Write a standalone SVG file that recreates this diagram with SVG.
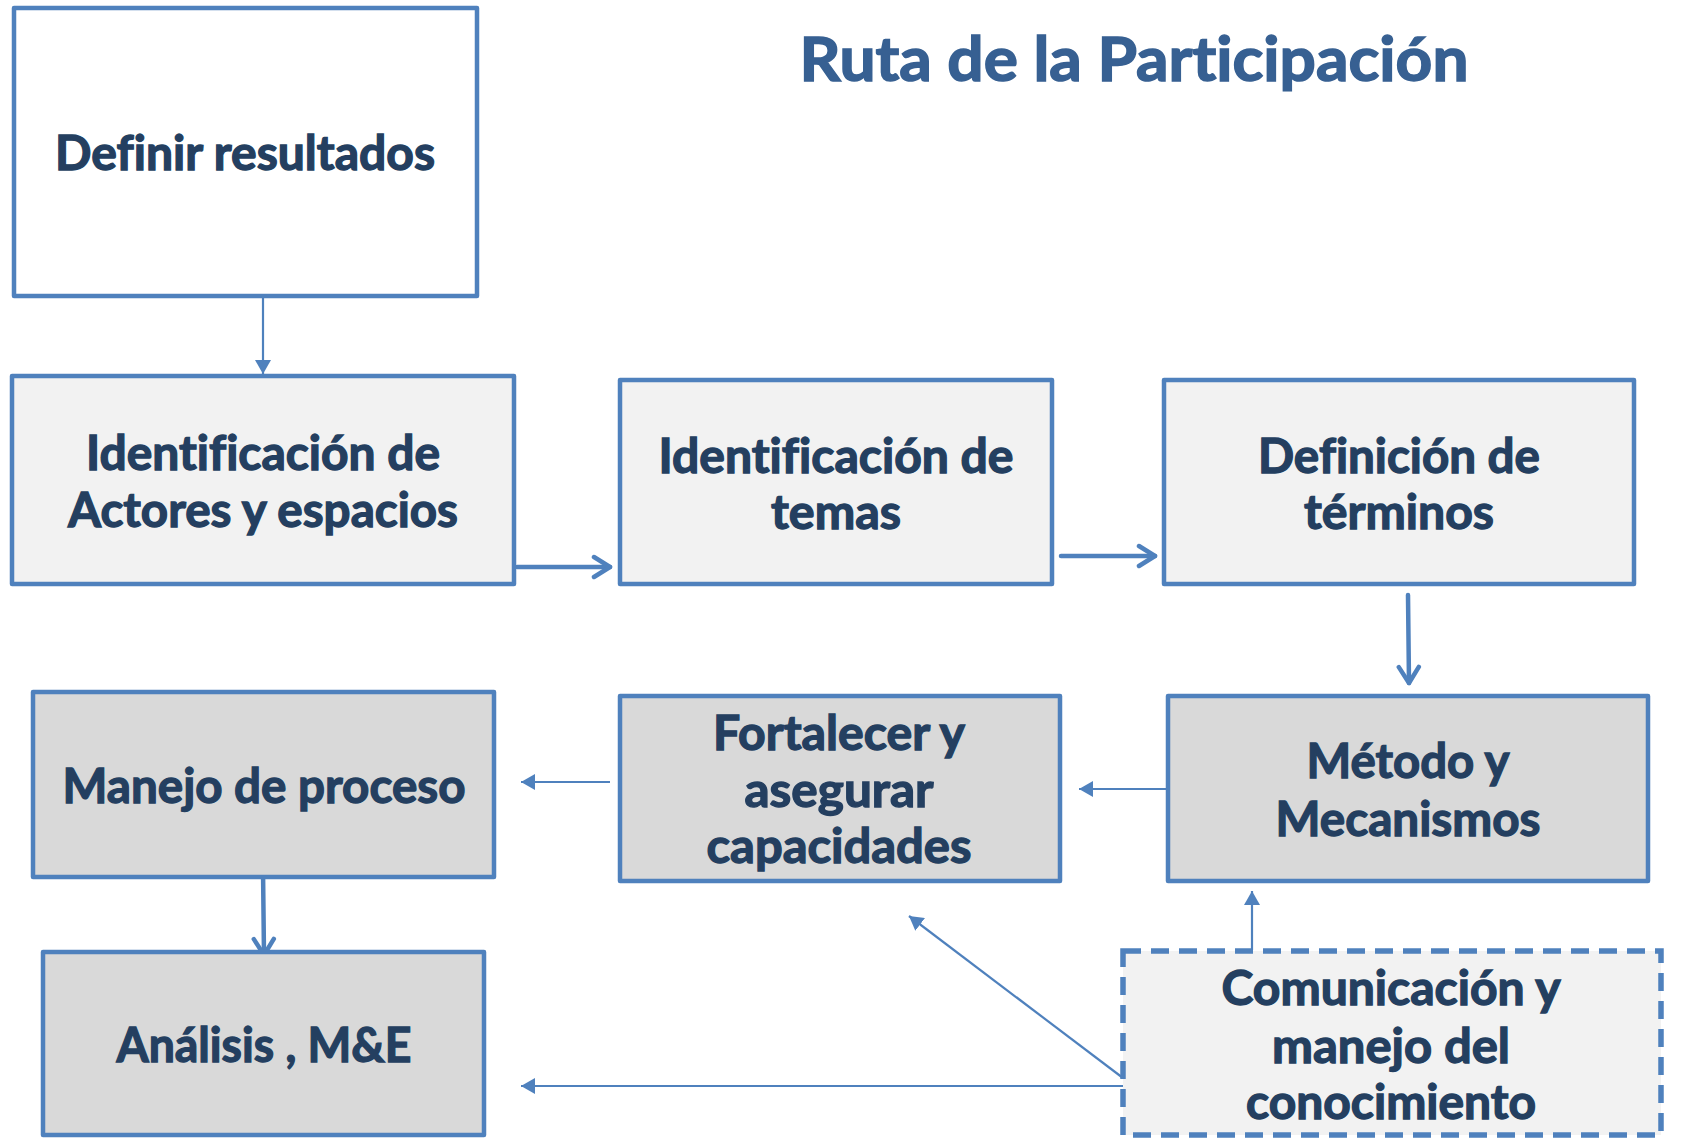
<svg xmlns="http://www.w3.org/2000/svg" width="1687" height="1139" viewBox="0 0 1687 1139">
<style>
.box{stroke:#4F81BD;stroke-width:4.5;stroke-linejoin:round}
.white{fill:#FFFFFF}
.light{fill:#F2F2F2}
.grey{fill:#D9D9D9}
.dash{stroke-dasharray:18 10;stroke-width:5.5;stroke-linejoin:miter}
.t{font-family:Lato,"Open Sans","Liberation Sans",sans-serif;font-weight:bold;font-size:47px;fill:#243F60;stroke:#243F60;stroke-width:1.3;text-anchor:middle;font-variant-ligatures:none;font-feature-settings:"liga" 0}
.title{font-family:Lato,"Open Sans","Liberation Sans",sans-serif;font-weight:bold;font-size:62px;fill:#376092;stroke:#376092;stroke-width:1.5;text-anchor:middle;font-variant-ligatures:none;font-feature-settings:"liga" 0}
.thick{stroke:#4F81BD;stroke-width:4.5;fill:none;stroke-linecap:round}
.thin{stroke:#4F81BD;stroke-width:2.2;fill:none}
</style>
<defs>
<marker id="open" markerUnits="userSpaceOnUse" viewBox="0 0 22 26" refX="19" refY="13" markerWidth="22" markerHeight="26" orient="auto">
<path d="M3,3 L19,13 L3,23" fill="none" stroke="#4F81BD" stroke-width="4.5" stroke-linecap="round" stroke-linejoin="round"/>
</marker>
<marker id="tri" markerUnits="userSpaceOnUse" viewBox="0 0 14 16" refX="14" refY="8" markerWidth="14" markerHeight="16" orient="auto">
<path d="M0,0 L14,8 L0,16 Z" fill="#4F81BD"/>
</marker>
</defs>
<rect width="1687" height="1139" fill="#FFFFFF"/>
<text class="title" x="1134" y="81" textLength="669" lengthAdjust="spacingAndGlyphs">Ruta de la Participación</text>

<g id="connectors">
<line class="thin" x1="263" y1="297" x2="263" y2="374" marker-end="url(#tri)"/>
<line class="thick" x1="517" y1="567" x2="610" y2="567" marker-end="url(#open)"/>
<line class="thick" x1="1061" y1="556" x2="1155" y2="556" marker-end="url(#open)"/>
<line class="thick" x1="1408" y1="595" x2="1409" y2="683" marker-end="url(#open)"/>
<line class="thin" x1="1167" y1="789" x2="1079" y2="789" marker-end="url(#tri)"/>
<line class="thin" x1="610" y1="782" x2="521" y2="782" marker-end="url(#tri)"/>
<line class="thick" x1="263" y1="869" x2="264" y2="955" marker-end="url(#open)"/>
<line class="thin" x1="1252" y1="950" x2="1252" y2="891" marker-end="url(#tri)"/>
<line class="thin" x1="1123" y1="1078" x2="909" y2="916" marker-end="url(#tri)"/>
<line class="thin" x1="1123" y1="1086" x2="521" y2="1086" marker-end="url(#tri)"/>
</g>

<g id="n-definir">
<rect class="box white" x="14" y="8" width="463" height="288"/>
<text class="t" x="245" y="170" textLength="380" lengthAdjust="spacingAndGlyphs">Definir resultados</text>
</g>
<g id="n-actores">
<rect class="box light" x="12" y="376" width="502" height="208"/>
<text class="t" x="263" y="470" textLength="354" lengthAdjust="spacingAndGlyphs">Identificación de</text>
<text class="t" x="263" y="527" textLength="390" lengthAdjust="spacingAndGlyphs">Actores y espacios</text>
</g>
<g id="n-temas">
<rect class="box light" x="620" y="380" width="432" height="204"/>
<text class="t" x="836" y="473" textLength="355" lengthAdjust="spacingAndGlyphs">Identificación de</text>
<text class="t" x="836" y="529" textLength="130" lengthAdjust="spacingAndGlyphs">temas</text>
</g>
<g id="n-terminos">
<rect class="box light" x="1164" y="380" width="470" height="204"/>
<text class="t" x="1399" y="473" textLength="282" lengthAdjust="spacingAndGlyphs">Definición de</text>
<text class="t" x="1399" y="529" textLength="190" lengthAdjust="spacingAndGlyphs">términos</text>
</g>
<g id="n-metodo">
<rect class="box grey" x="1168" y="696" width="480" height="185"/>
<text class="t" x="1408" y="778" textLength="203" lengthAdjust="spacingAndGlyphs">Método y</text>
<text class="t" x="1408" y="836" textLength="265" lengthAdjust="spacingAndGlyphs">Mecanismos</text>
</g>
<g id="n-fortalecer">
<rect class="box grey" x="620" y="696" width="440" height="185"/>
<text class="t" x="839" y="750" textLength="252" lengthAdjust="spacingAndGlyphs">Fortalecer y</text>
<text class="t" x="839" y="807" textLength="189" lengthAdjust="spacingAndGlyphs">asegurar</text>
<text class="t" x="839" y="863" textLength="265" lengthAdjust="spacingAndGlyphs">capacidades</text>
</g>
<g id="n-manejo">
<rect class="box grey" x="33" y="692" width="461" height="185"/>
<text class="t" x="264" y="803" textLength="403" lengthAdjust="spacingAndGlyphs">Manejo de proceso</text>
</g>
<g id="n-analisis">
<rect class="box grey" x="43" y="952" width="441" height="183"/>
<text class="t" x="264" y="1062" textLength="295" lengthAdjust="spacingAndGlyphs">Análisis , M&amp;E</text>
</g>
<g id="n-comunicacion">
<rect class="box light dash" x="1123" y="951" width="538" height="184"/>
<text class="t" x="1391" y="1005" textLength="339" lengthAdjust="spacingAndGlyphs">Comunicación y</text>
<text class="t" x="1391" y="1063" textLength="238" lengthAdjust="spacingAndGlyphs">manejo del</text>
<text class="t" x="1391" y="1119" textLength="290" lengthAdjust="spacingAndGlyphs">conocimiento</text>
</g>
</svg>
